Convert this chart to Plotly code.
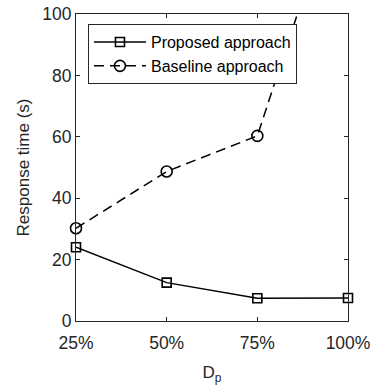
import plotly.graph_objects as go

# Data density levels (percent) and response times in seconds
density = [25, 50, 75, 100]
density_labels = ["25%", "50%", "75%", "100%"]
proposed = [24.0, 12.5, 7.4, 7.5]
baseline = [30.2, 48.7, 60.3, 150.0]
y_ticks = [0, 20, 40, 60, 80, 100]

ink = "#262626"
font_family = "Liberation Sans, Arial, sans-serif"

fig = go.Figure()
fig.add_trace(go.Scatter(
    x=density, y=proposed, name="Proposed approach",
    mode="lines+markers", cliponaxis=False,
    line=dict(color="black", width=1.5),
    marker=dict(symbol="square-open", size=9, color="black", line=dict(width=1.6)),
))
fig.add_trace(go.Scatter(
    x=density, y=baseline, name="Baseline approach",
    mode="lines+markers", cliponaxis=False,
    line=dict(color="black", width=1.5, dash="10px,6px"),
    marker=dict(symbol="circle-open", size=11, color="black", line=dict(width=1.6)),
))

axis_common = dict(
    showline=True, linecolor=ink, linewidth=1, mirror="ticks",
    ticks="inside", ticklen=4, tickcolor=ink, showgrid=False, zeroline=False,
    automargin=False,
    tickfont=dict(size=17.5, color=ink, family=font_family),
)

fig.update_layout(
    width=371, height=392,
    margin=dict(l=76, r=23, t=14, b=71),
    paper_bgcolor="white", plot_bgcolor="white",
    font=dict(family=font_family, color=ink),
    xaxis=dict(range=[25, 100], tickvals=density, ticktext=density_labels,
               ticklabelstandoff=6,
               title=dict(text="D<sub>p</sub>", font=dict(size=17, color=ink), standoff=14),
               **axis_common),
    yaxis=dict(range=[0, 100], tickvals=y_ticks,
               title=dict(text="Response time (s)", font=dict(size=17, color=ink), standoff=8),
               **axis_common),
    legend=dict(x=0.044, y=0.967, xanchor="left", yanchor="top",
                bgcolor="white", bordercolor=ink, borderwidth=1,
                font=dict(size=16, color="black", family=font_family),
                tracegroupgap=0, itemwidth=52),
    showlegend=True,
)

fig.write_html("out.html")
